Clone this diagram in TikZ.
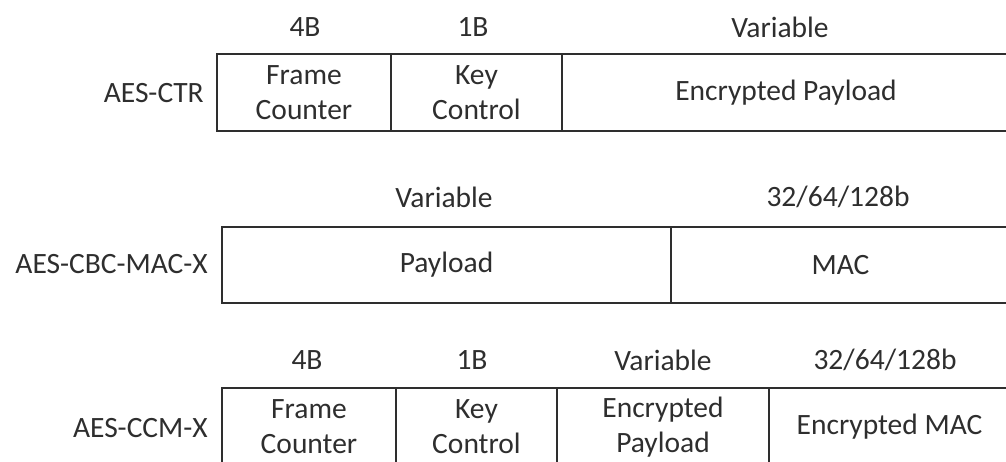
\documentclass[tikz,border=0pt]{standalone}
\usepackage{fontspec}
\setmainfont{Carlito}
\definecolor{trait}{HTML}{2E2E2E}

\begin{document}
\begin{tikzpicture}[x=1pt,y=-1pt,
	texte/.style={text=trait,inner sep=0pt,font=\fontsize{29.5}{35}\selectfont},
	cellule/.style={texte,draw=trait,line width=1.6pt,align=center,minimum height=#1},
	cellule/.default=77pt,
	taille/.style={texte},
	mode/.style={texte,anchor=east}]
	% Cadre
	\clip (0,0) rectangle (1006,462);
	
	% AES-CTR
	\node[mode] (ctr) at (204,93) {AES-CTR};
	\node[cellule,minimum width=174pt] (fc1) at (304,92.5) {Frame\\Counter};
	\node[cellule,minimum width=171pt] (kc1) at (476.5,92.5) {Key\\Control};
	\node[cellule,minimum width=448pt] (ep1) at (786,92.5) {Encrypted Payload};
	\node[taille] (t11) at (305,27) {4B};
	\node[taille] (t12) at (473,27) {1B};
	\node[taille] (t13) at (780,27) {Variable};
	
	% AES-CBC-MAC-X
	\node[mode] (cbc) at (208,264) {AES-CBC-MAC-X};
	\node[cellule=76pt,minimum width=449pt] (pl2) at (446.5,265) {Payload};
	\node[cellule=76pt,minimum width=339pt] (mac2) at (840.5,265) {MAC};
	\node[taille] (t21) at (444,197) {Variable};
	\node[taille] (t22) at (838,197) {32/64/128b};
	
	% AES-CCM-X
	\node[mode] (ccm) at (208,428) {AES-CCM-X};
	\node[cellule=78pt,minimum width=174pt] (fc3) at (309,427) {Frame\\Counter};
	\node[cellule=78pt,minimum width=161pt] (kc3) at (476.5,427) {Key\\Control};
	\node[cellule=78pt,minimum width=212pt] (ep3) at (663,427) {Encrypted\\Payload};
	\node[cellule=78pt,minimum width=241pt] (em3) at (889.5,427) {Encrypted MAC};
	\node[taille] (t31) at (307,360) {4B};
	\node[taille] (t32) at (472,360) {1B};
	\node[taille] (t33) at (663,360) {Variable};
	\node[taille] (t34) at (885,360) {32/64/128b};
\end{tikzpicture}
\end{document}
